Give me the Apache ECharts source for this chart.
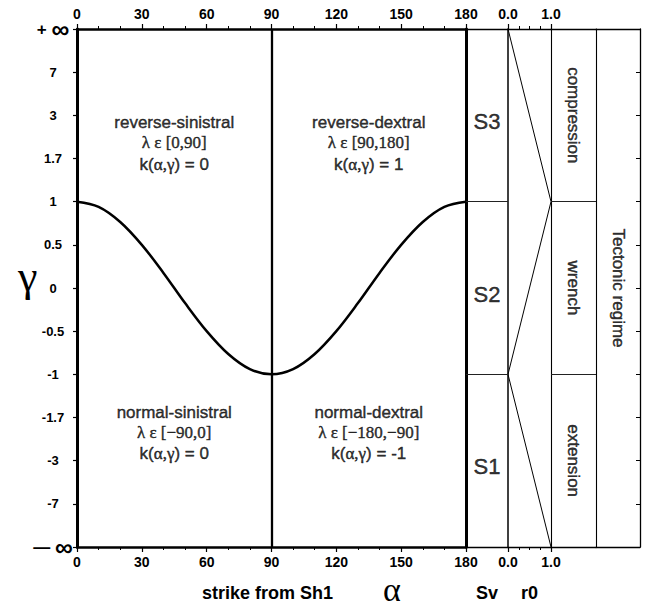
<!DOCTYPE html>
<html><head><meta charset="utf-8">
<script src="https://cdn.jsdelivr.net/npm/echarts@6/dist/echarts.min.js"></script>
<style>html,body{margin:0;padding:0;background:#fff}#c{width:655px;height:606px}</style>
</head><body><div id="c"></div>
<script>
// ---- data ----
const alphaTicks = [0, 30, 60, 90, 120, 150, 180];
const gammaTickLabels = ['−∞', '-7', '-3', '-1.7', '-1', '-0.5', '0', '0.5', '1', '1.7', '3', '7', '+∞']; // index 0 = bottom
const curveAlpha = [0, 10, 20, 30, 40, 50, 60, 70, 80, 90, 100, 110, 120, 130, 140, 150, 160, 170, 180];
const curveGammaIndex = [8.0, 7.88, 7.53, 7.0, 6.35, 5.65, 5.0, 4.47, 4.12, 4.0, 4.12, 4.47, 5.0, 5.65, 6.35, 7.0, 7.53, 7.88, 8.0];
const r0Values = [0, 1, 0, 1];
const r0GammaIndex = [12, 8, 4, 0];
const boundaryGammaIndex = [8, 4]; // gamma = 1 and gamma = -1
const quadrantNames = ['reverse-sinistral', 'reverse-dextral', 'normal-sinistral', 'normal-dextral'];
const quadrantLambda = ['[0,90]', '[90,180]', '[−90,0]', '[−180,−90]'];
const quadrantK = ['0', '1', '0', '-1'];
const quadrantAlpha = [45, 135, 45, 135];
const quadrantGammaIndex = [9.33, 9.33, 2.62, 2.62];
const stressLabels = ['S3', 'S2', 'S1'];
const regimeLabels = ['compression', 'wrench', 'extension'];
const bandGammaIndex = [10, 6, 2];
const tectonicLabel = 'Tectonic regime';

const SANS = '"Liberation Sans", Arial, Helvetica, sans-serif';
const SERIF = '"Liberation Serif", "Times New Roman", serif';
const K = '#000';
const TB = {textBorderColor: '#000', textBorderWidth: 0.45};

const TOP = 29, H = 518;
const chart = echarts.init(document.getElementById('c'), null, {renderer: 'svg'});

function lineOnlyX(grid, pos, w) {
  return {gridIndex: grid, type: 'value', position: pos, min: 0, max: 1,
    axisLine: {show: true, onZero: false, lineStyle: {color: K, width: w}},
    axisTick: {show: false}, axisLabel: {show: false}, splitLine: {show: false}};
}
function lineOnlyY(grid, pos, w, ticks) {
  return {gridIndex: grid, type: 'value', position: pos, min: 0, max: 12, interval: 1,
    axisLine: {show: true, onZero: false, lineStyle: {color: K, width: w}},
    axisTick: {show: !!ticks, inside: true, length: 4, lineStyle: {color: K, width: 1}},
    axisLabel: {show: false}, splitLine: {show: false}};
}
const alphaAxis = (pos) => ({
  gridIndex: 0, type: 'value', position: pos, min: 0, max: 180, interval: 30,
  axisLine: {show: true, onZero: false, lineStyle: {color: K, width: 2.5}},
  axisTick: {show: true, length: 5, lineStyle: {color: K, width: 1.2}},
  minorTick: {show: true, splitNumber: 3, length: 3, lineStyle: {color: K, width: 1}},
  axisLabel: {color: K, fontFamily: SANS, fontWeight: 'bold', fontSize: 14, margin: 8,
    formatter: v => alphaTicks.includes(v) ? String(v) : ''},
  splitLine: {show: false}
});
const r0Axis = (pos) => ({
  gridIndex: 2, type: 'value', position: pos, min: 0, max: 1, interval: 1,
  axisLine: {show: true, onZero: false, lineStyle: {color: K, width: 1.3}},
  axisTick: {show: true, length: 5, lineStyle: {color: K, width: 1.2}},
  minorTick: {show: true, splitNumber: 4, length: 3, lineStyle: {color: K, width: 1}},
  axisLabel: {color: K, fontFamily: SANS, fontWeight: 'bold', fontSize: 14, margin: 8,
    formatter: v => v.toFixed(1)},
  splitLine: {show: false}
});

const xAxes = [];
xAxes.push(Object.assign(alphaAxis('bottom'), {name: 'strike from Sh1', nameLocation: 'middle', nameGap: 37,
  nameTextStyle: {color: K, fontFamily: SANS, fontWeight: 'bold', fontSize: 18, padding: [0, 8, 0, 0]}}));
xAxes.push(alphaAxis('top'));
xAxes.push(Object.assign(lineOnlyX(1, 'bottom', 1.3), {name: 'Sv', nameLocation: 'middle', nameGap: 37,
  nameTextStyle: {color: K, fontFamily: SANS, fontWeight: 'bold', fontSize: 18}}));
xAxes.push(lineOnlyX(1, 'top', 1.3));
xAxes.push(Object.assign(r0Axis('bottom'), {name: 'r0', nameLocation: 'middle', nameGap: 37,
  nameTextStyle: {color: K, fontFamily: SANS, fontWeight: 'bold', fontSize: 18}}));
xAxes.push(r0Axis('top'));
xAxes.push(lineOnlyX(3, 'bottom', 1.3));
xAxes.push(lineOnlyX(3, 'top', 1.3));
xAxes.push(lineOnlyX(4, 'bottom', 1.3));
xAxes.push(lineOnlyX(4, 'top', 1.3));

const yAxes = [
  {gridIndex: 0, type: 'value', position: 'left', min: 0, max: 12, interval: 1,
    axisLine: {show: true, onZero: false, lineStyle: {color: K, width: 3}},
    axisTick: {show: true, length: 4, lineStyle: {color: K, width: 1.2}},
    axisLabel: {color: K, fontFamily: SANS, fontWeight: 'bold', fontSize: 13, align: 'center', margin: 24,
      formatter: v => {
        const s = gammaTickLabels[v];
        if (v === 12) return '{p|+ }{inf|∞}';
        if (v === 0) return '{p|— }{inf|∞}';
        return s;
      },
      rich: {p: {fontFamily: SANS, fontSize: 17, color: K}, inf: {fontFamily: SANS, fontSize: 25, color: K}}},
    splitLine: {show: false}},
  lineOnlyY(1, 'left', 3),
  lineOnlyY(2, 'left', 1.5),
  lineOnlyY(3, 'left', 1.1),
  lineOnlyY(4, 'left', 1.1),
  lineOnlyY(4, 'right', 1.3, true)
];

const quadData = quadrantNames.map((n, i) => ({
  value: [quadrantAlpha[i], quadrantGammaIndex[i]],
  label: {formatter: `{a|${n}}\n{b|λ ε ${quadrantLambda[i]}}\n{c|k(}{d|α,γ}{c|) = ${quadrantK[i]}}`}
}));

const series = [
  {type: 'line', xAxisIndex: 0, yAxisIndex: 0, smooth: 0.35, showSymbol: false, symbol: 'none',
    lineStyle: {color: K, width: 2.5}, data: curveAlpha.map((a, i) => [a, curveGammaIndex[i]]),
    markLine: {silent: true, symbol: 'none', label: {show: false},
      lineStyle: {color: K, width: 2.3, type: 'solid'}, data: [{xAxis: 90}]}},
  {type: 'scatter', xAxisIndex: 0, yAxisIndex: 0, symbolSize: 1, itemStyle: {color: 'rgba(0,0,0,0)'},
    data: quadData,
    label: {show: true, position: 'inside', color: K, align: 'center', verticalAlign: 'middle',
      rich: {
        a: Object.assign({fontFamily: SANS, fontSize: 17, lineHeight: 19, color: K}, TB),
        b: Object.assign({fontFamily: SERIF, fontSize: 17, lineHeight: 21, color: K}, TB),
        c: Object.assign({fontFamily: SANS, fontSize: 17, lineHeight: 22, color: K}, TB),
        d: Object.assign({fontFamily: SERIF, fontSize: 17, lineHeight: 22, color: K}, TB)
      }}},
  // Sv column
  {type: 'scatter', xAxisIndex: 2, yAxisIndex: 1, symbolSize: 1, itemStyle: {color: 'rgba(0,0,0,0)'},
    data: stressLabels.map((s, i) => ({value: [0.5, bandGammaIndex[i]], name: s})),
    label: Object.assign({show: true, position: 'inside', formatter: p => p.name, offset: [0, 6],
      fontFamily: SANS, fontSize: 22, color: K}, TB),
    markLine: {silent: true, symbol: 'none', label: {show: false},
      lineStyle: {color: '#222', width: 1, type: 'solid'},
      data: boundaryGammaIndex.map(g => ({yAxis: g}))}},
  // r0 column
  {type: 'line', xAxisIndex: 4, yAxisIndex: 2, showSymbol: false, symbol: 'none',
    lineStyle: {color: K, width: 1}, data: r0Values.map((r, i) => [r, r0GammaIndex[i]])},
  // regime column
  {type: 'scatter', xAxisIndex: 6, yAxisIndex: 3, symbolSize: 1, itemStyle: {color: 'rgba(0,0,0,0)'},
    data: regimeLabels.map((s, i) => ({value: [0.5, bandGammaIndex[i]], name: s})),
    label: Object.assign({show: true, position: 'inside', formatter: p => p.name, rotate: -90,
      fontFamily: SANS, fontSize: 17, color: K}, TB),
    markLine: {silent: true, symbol: 'none', label: {show: false},
      lineStyle: {color: '#222', width: 1, type: 'solid'},
      data: boundaryGammaIndex.map(g => ({yAxis: g}))}},
  // tectonic column
  {type: 'scatter', xAxisIndex: 8, yAxisIndex: 4, symbolSize: 1, itemStyle: {color: 'rgba(0,0,0,0)'},
    data: [{value: [0.5, 6], name: tectonicLabel}],
    label: Object.assign({show: true, position: 'inside', formatter: p => p.name, rotate: -90,
      fontFamily: SANS, fontSize: 17, color: K}, TB)}
];

const g = (left, width) => ({left: left, top: TOP, width: width, height: H, containLabel: false, outerBoundsMode: 'none'});

chart.setOption({
  backgroundColor: '#fff',
  animation: false,
  title: [
    {text: 'α', left: 383, top: 577, padding: 0,
      textStyle: {fontFamily: SERIF, fontSize: 34, lineHeight: 24, fontWeight: 'normal', color: K}},
    {text: 'γ', left: 18, top: 254, padding: 0,
      textStyle: {fontFamily: SERIF, fontSize: 44, lineHeight: 44, fontWeight: 'normal', color: K}}
  ],
  grid: [g(77, 389), g(466, 42), g(508, 43), g(551, 45), g(596, 44)],
  xAxis: xAxes,
  yAxis: yAxes,
  series: series
});
</script>
</body></html>
